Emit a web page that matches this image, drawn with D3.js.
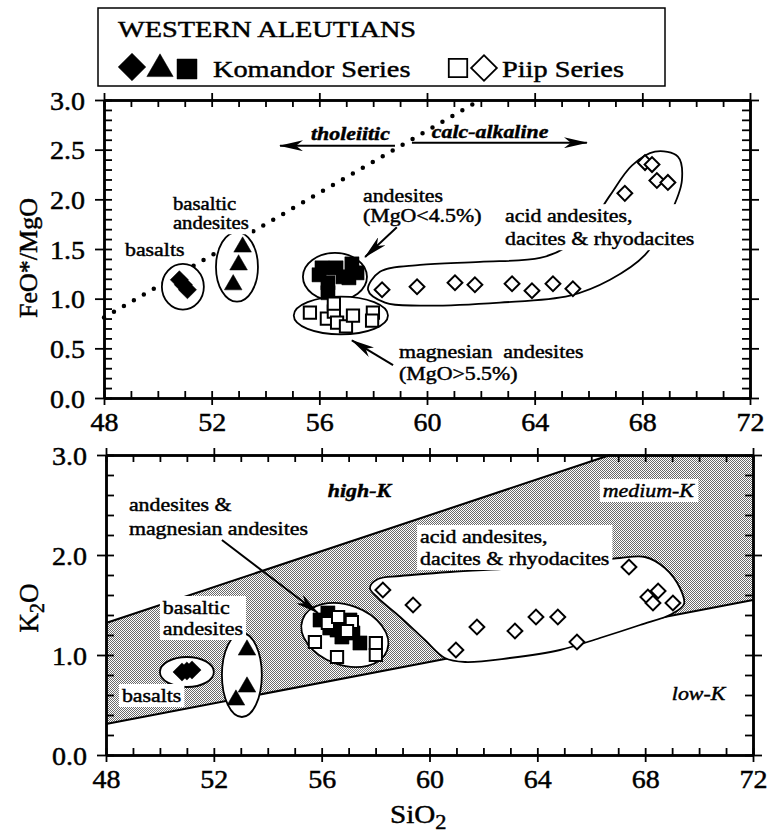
<!DOCTYPE html>
<html>
<head>
<meta charset="utf-8">
<script src="https://cdn.jsdelivr.net/npm/d3@7"></script>
<style>
  body { margin: 0; background: #fff; }
  svg text { font-family: "Liberation Serif", "Times New Roman", Times, serif; fill: #000; stroke: #000; stroke-width: 0.45px; }
</style>
</head>
<body>
<svg id="chart" width="770" height="835"></svg>
<script>
// ticks
const xTicks = [48, 52, 56, 60, 64, 68, 72];
const feTicks = [0, 0.5, 1, 1.5, 2, 2.5, 3];
const kTicks = [0, 1, 2, 3];
const xMinor = d3.range(48, 73, 1);
const feMinor = d3.range(0, 3.001, 0.1);
const kMinor = d3.range(0, 3.001, 0.2);

// FeO*/MgO vs SiO2 (top)
const feKomBasalts = [[50.8, 1.19], [50.95, 1.14], [51.1, 1.09]];
const feKomBasAnd = [[53.15, 1.52], [53.0, 1.34], [52.8, 1.14]];
const feKomAndesites = [[55.99, 1.24], [56.1, 1.31], [56.62, 1.31], [57.21, 1.35], [57.4, 1.26],
  [56.32, 1.16], [56.32, 1.06], [56.88, 1.22], [57.1, 1.21]];
const fePiipMgAnd = [[55.65, 0.86], [56.28, 0.80], [56.54, 0.87], [56.66, 0.76], [56.99, 0.72],
  [57.25, 0.83], [57.99, 0.86], [57.96, 0.78], [56.54, 0.95]];
const fePiipAcid = [[58.33, 1.09], [59.63, 1.12], [61.04, 1.16], [61.78, 1.14], [63.16, 1.15],
  [63.9, 1.08], [64.68, 1.15], [65.42, 1.10], [67.35, 2.06], [68.1, 2.37], [68.36, 2.35],
  [68.54, 2.19], [68.95, 2.17]];
const feDivide = [[48, 0.81], [61.97, 3.0]];

// K2O vs SiO2 (bottom)
const kKomBasalts = [[50.82, 0.83], [51.0, 0.84], [51.19, 0.85]];
const kKomBasAnd = [[53.23, 1.05], [53.23, 0.68], [52.82, 0.55]];
const kKomAndesites = [[55.94, 1.35], [56.23, 1.42], [56.57, 1.25], [56.75, 1.18], [57.16, 1.22],
  [57.42, 1.12], [57.05, 1.35], [56.3, 1.27]];
const kPiipMgAnd = [[55.75, 1.13], [56.23, 1.32], [56.61, 1.38], [57.12, 1.33], [56.94, 1.24],
  [56.57, 0.98], [58.01, 1.12], [58.01, 1.00]];
const kPiipAcid = [[58.27, 1.65], [59.39, 1.50], [60.98, 1.05], [61.76, 1.28], [63.17, 1.24],
  [63.95, 1.38], [64.76, 1.38], [65.47, 1.13], [67.4, 1.88], [68.48, 1.64], [68.1, 1.58],
  [68.29, 1.52], [69.03, 1.52]];
const kMediumLow = [[48, 0.31], [72, 1.55]];
const kMediumHigh = [[48, 1.32], [66.7, 3.0]];

// field outlines: [cx, cy, rx, ry, rotate]
const feFields = [[50.93, 1.12, 0.78, 0.23, 0], [52.94, 1.32, 0.78, 0.35, 0],
  [56.58, 1.22, 1.19, 0.24, 0], [56.8, 0.83, 1.75, 0.19, 0]];
const kFields = [[51.0, 0.83, 1.0, 0.15, 0], [53.04, 0.80, 0.74, 0.42, 0], [56.86, 1.20, 1.67, 0.30, 20]];
const feAcidField = [[57.81, 1.09], [58.25, 1.27], [59.74, 1.34], [61.97, 1.37], [64.2, 1.41],
  [65.12, 1.51], [66.05, 1.74], [66.8, 2.04], [67.61, 2.34], [68.47, 2.48], [69.32, 2.43],
  [69.47, 2.19], [69.03, 1.85], [68.1, 1.44], [66.8, 1.19], [65.31, 1.03], [62.71, 0.96],
  [59.74, 0.93], [58.44, 0.96]];
const kAcidField = [[57.79, 1.67], [58.09, 1.76], [58.91, 1.79], [60.76, 1.83], [63.36, 1.87],
  [65.58, 1.92], [67.07, 1.97], [67.99, 1.98], [68.73, 1.87], [69.29, 1.67], [69.44, 1.51],
  [68.99, 1.41], [67.81, 1.30], [66.32, 1.17], [64.84, 1.05], [62.98, 0.97], [61.32, 0.93],
  [60.57, 0.97], [59.83, 1.15], [58.91, 1.38], [58.09, 1.57]];

const feNotes = [
  { lines: ["basalts"], at: [48.78, 1.43], bg: true },
  { lines: ["basaltic", "andesites"], at: [50.56, 1.89], lh: 19, size: 18, bg: true },
  { lines: ["andesites", "(MgO<4.5%)"], at: [57.62, 1.97], lh: 20, bg: true },
  { lines: ["acid andesites,", "dacites & rhyodacites"], at: [62.9, 1.77], lh: 23, bg: true },
  { lines: ["magnesian  andesites", "(MgO>5.5%)"], at: [58.96, 0.40], lh: 22, bg: true },
  { lines: ["tholeiitic"], at: [55.69, 2.60], italic: true, bold: true },
  { lines: ["calc-alkaline"], at: [60.18, 2.62], italic: true, bold: true }
];
const feArrows = [[[58.81, 2.54], [54.54, 2.54]], [[59.44, 2.57], [65.94, 2.57]],
  [[58.88, 1.72], [57.7, 1.42]], [[58.74, 0.33], [57.21, 0.58]]];

const kNotes = [
  { lines: ["high-K"], at: [56.23, 2.58], italic: true, bold: true },
  { lines: ["medium-K"], at: [66.43, 2.58], italic: true, bg: true },
  { lines: ["low-K"], at: [68.99, 0.55], italic: true },
  { lines: ["andesites &", "magnesian andesites"], at: [48.85, 2.44], lh: 24 },
  { lines: ["basaltic", "andesites"], at: [50.11, 1.41], lh: 21, bg: true },
  { lines: ["basalts"], at: [48.59, 0.53], bg: true },
  { lines: ["acid andesites,", "dacites & rhyodacites"], at: [59.65, 2.12], lh: 22, bg: true }
];
const kArrows = [[[52.3, 2.15], [55.86, 1.42]]];

// ---------------------------------------------------------------
const svg = d3.select("#chart");
const defs = svg.append("defs");

defs.append("marker").attr("id", "arr")
  .attr("viewBox", "0 0 24 11").attr("refX", 23).attr("refY", 5.5)
  .attr("markerWidth", 24).attr("markerHeight", 11)
  .attr("markerUnits", "userSpaceOnUse").attr("orient", "auto")
  .append("path").attr("d", "M0,0L24,5.5L0,11L7,5.5Z");

const pat = defs.append("pattern").attr("id", "stip")
  .attr("width", 2).attr("height", 2).attr("patternUnits", "userSpaceOnUse");
pat.append("rect").attr("width", 2).attr("height", 2).attr("fill", "#fff");
pat.append("rect").attr("width", 1).attr("height", 1).attr("fill", "#6a6a6a");
pat.append("rect").attr("x", 1).attr("y", 1).attr("width", 1).attr("height", 1).attr("fill", "#6a6a6a");

// stretch text horizontally like the scan
function stretch(sel, k) {
  sel.each(function () {
    const L = this.getComputedTextLength();
    this.setAttribute("textLength", L * k);
    this.setAttribute("lengthAdjust", "spacingAndGlyphs");
  });
}

function frame(g, x, y, xMin, yMaj, yMin) {
  const [xl, xr] = x.range(), [yb, yt] = y.range();
  const ax = (axis, tx, ty) => g.append("g").attr("transform", `translate(${tx},${ty})`).call(axis);
  ax(d3.axisBottom(x).tickValues(xMin).tickSize(-7).tickSizeOuter(0).tickFormat(""), 0, yb);
  const bx = ax(d3.axisBottom(x).tickValues(xTicks).tickSize(7).tickSizeOuter(0).tickPadding(8).tickFormat(d3.format("d")), 0, yb);
  ax(d3.axisTop(x).tickValues(xMin).tickSize(-7).tickSizeOuter(0).tickFormat(""), 0, yt);
  ax(d3.axisTop(x).tickValues(xTicks).tickSize(7).tickSizeOuter(0).tickFormat(""), 0, yt);
  ax(d3.axisLeft(y).tickValues(yMin).tickSize(-8).tickSizeOuter(0).tickFormat(""), xl, 0);
  const ly = ax(d3.axisLeft(y).tickValues(yMaj).tickSize(9).tickSizeOuter(0).tickPadding(10).tickFormat(d3.format(".1f")), xl, 0);
  ax(d3.axisRight(y).tickValues(yMin).tickSize(-8).tickSizeOuter(0).tickFormat(""), xr, 0);
  ax(d3.axisRight(y).tickValues(yMaj).tickSize(9).tickSizeOuter(0).tickFormat(""), xr, 0);
  g.selectAll(".domain").attr("stroke-width", 2.5);
  g.selectAll(".tick line").attr("stroke-width", 1.8);
  [bx, ly].forEach(a => {
    const t = a.selectAll("text").style("font-size", "25px");
    stretch(t, 1.12);
  });
  ly.selectAll("text").attr("dy", "0.36em");
}

function marks(g, data, x, y, type, area, filled, rot) {
  g.append("g").selectAll("path").data(data).enter().append("path")
    .attr("d", d3.symbol(type, area))
    .attr("transform", d => `translate(${x(d[0])},${y(d[1])}) rotate(${rot || 0})`)
    .attr("fill", filled ? "#000" : "#fff")
    .attr("stroke", "#000").attr("stroke-width", filled ? 0.5 : 2);
}

function fields(g, data, x, y) {
  g.append("g").selectAll("ellipse").data(data).enter().append("ellipse")
    .attr("rx", d => x(d[0] + d[2]) - x(d[0]))
    .attr("ry", d => y(d[1] - d[3]) - y(d[1]))
    .attr("transform", d => `translate(${x(d[0])},${y(d[1])}) rotate(${d[4]})`)
    .attr("fill", "#fff").attr("stroke", "#000").attr("stroke-width", 1.8);
}

function outline(g, pts, x, y) {
  g.append("path")
    .attr("d", d3.line().x(d => x(d[0])).y(d => y(d[1])).curve(d3.curveCatmullRomClosed.alpha(0.5))(pts))
    .attr("fill", "#fff").attr("stroke", "#000").attr("stroke-width", 1.8);
}

function notes(g, data, x, y) {
  data.forEach(n => {
    const ng = g.append("g");
    const texts = n.lines.map((s, i) => ng.append("text")
      .attr("x", x(n.at[0])).attr("y", y(n.at[1]) + i * (n.lh || 21))
      .style("font-size", (n.size || 19) + "px")
      .style("font-style", n.italic ? "italic" : "normal")
      .style("font-weight", n.bold ? "bold" : "normal")
      .style("white-space", "pre")
      .text(s));
    texts.forEach(t => stretch(t, 1.15));
    if (n.bg) {
      const b = ng.node().getBBox();
      ng.insert("rect", "text").attr("x", b.x - 3).attr("y", b.y - 1)
        .attr("width", b.width + 6).attr("height", b.height + 2).attr("fill", "#fff");
    }
  });
}

function arrows(g, data, x, y) {
  g.append("g").selectAll("line").data(data).enter().append("line")
    .attr("x1", d => x(d[0][0])).attr("y1", d => y(d[0][1]))
    .attr("x2", d => x(d[1][0])).attr("y2", d => y(d[1][1]))
    .attr("stroke", "#000").attr("stroke-width", 2).attr("marker-end", "url(#arr)");
}

// ---- top panel ----
const xTop = d3.scaleLinear().domain([48, 72]).range([104, 750]);
const yFe = d3.scaleLinear().domain([0, 3]).range([398, 100]);
const gTop = svg.append("g");

gTop.append("line")
  .attr("x1", xTop(feDivide[0][0])).attr("y1", yFe(feDivide[0][1]))
  .attr("x2", xTop(feDivide[1][0])).attr("y2", yFe(feDivide[1][1]))
  .attr("stroke", "#000").attr("stroke-width", 4.5)
  .attr("stroke-linecap", "round").attr("stroke-dasharray", "0 11.5");

outline(gTop, feAcidField, xTop, yFe);
fields(gTop, feFields, xTop, yFe);
marks(gTop, feKomBasalts, xTop, yFe, d3.symbolSquare, 165, true, 45);
marks(gTop, feKomBasAnd, xTop, yFe, d3.symbolTriangle, 135, true);
marks(gTop, feKomAndesites, xTop, yFe, d3.symbolSquare, 200, true);
marks(gTop, fePiipMgAnd, xTop, yFe, d3.symbolSquare, 150, false);
marks(gTop, fePiipAcid, xTop, yFe, d3.symbolSquare, 110, false, 45);
notes(gTop, feNotes, xTop, yFe);
arrows(gTop, feArrows, xTop, yFe);
frame(gTop, xTop, yFe, xMinor, feTicks, feMinor);

gTop.append("text")
  .attr("transform", "translate(37,258) rotate(-90)")
  .attr("text-anchor", "middle").style("font-size", "26px")
  .text("FeO*/MgO");

// ---- bottom panel ----
const xBot = d3.scaleLinear().domain([48, 72]).range([106, 753]);
const yK = d3.scaleLinear().domain([0, 3]).range([755, 455]);
const gBot = svg.append("g");

const band = [kMediumLow[0], kMediumHigh[0], kMediumHigh[1], [72, 3.0], kMediumLow[1]];
gBot.append("path")
  .attr("d", d3.line().x(d => xBot(d[0])).y(d => yK(d[1]))(band) + "Z")
  .attr("fill", "url(#stip)").attr("shape-rendering", "crispEdges");
gBot.append("g").selectAll("line").data([kMediumLow, kMediumHigh]).enter().append("line")
  .attr("x1", d => xBot(d[0][0])).attr("y1", d => yK(d[0][1]))
  .attr("x2", d => xBot(d[1][0])).attr("y2", d => yK(d[1][1]))
  .attr("stroke", "#000").attr("stroke-width", 2);

outline(gBot, kAcidField, xBot, yK);
fields(gBot, kFields, xBot, yK);
marks(gBot, kKomBasalts, xBot, yK, d3.symbolSquare, 165, true, 45);
marks(gBot, kKomBasAnd, xBot, yK, d3.symbolTriangle, 135, true);
marks(gBot, kKomAndesites, xBot, yK, d3.symbolSquare, 200, true);
marks(gBot, kPiipMgAnd, xBot, yK, d3.symbolSquare, 150, false);
marks(gBot, kPiipAcid, xBot, yK, d3.symbolSquare, 110, false, 45);
notes(gBot, kNotes, xBot, yK);
arrows(gBot, kArrows, xBot, yK);
frame(gBot, xBot, yK, xMinor, kTicks, kMinor);

const kLab = gBot.append("text")
  .attr("transform", "translate(38,608) rotate(-90)")
  .attr("text-anchor", "middle").style("font-size", "27px");
kLab.append("tspan").text("K");
kLab.append("tspan").attr("dy", 6).style("font-size", "20px").text("2");
kLab.append("tspan").attr("dy", -6).text("O");

const siLab = svg.append("text").attr("x", 390).attr("y", 823).style("font-size", "26px");
siLab.append("tspan").text("SiO");
siLab.append("tspan").attr("dy", 6).style("font-size", "20px").text("2");
stretch(siLab, 1.12);

// ---- legend ----
const lg = svg.append("g");
lg.append("rect").attr("x", 98).attr("y", 8).attr("width", 567).attr("height", 78)
  .attr("fill", "#fff").attr("stroke", "#000").attr("stroke-width", 1.5);
stretch(lg.append("text").attr("x", 118).attr("y", 37).style("font-size", "24px").text("WESTERN ALEUTIANS"), 1.18);
const sym = (type, area, cx, cy, filled, rot) => lg.append("path")
  .attr("d", d3.symbol(type, area)())
  .attr("transform", `translate(${cx},${cy}) rotate(${rot || 0})`)
  .attr("fill", filled ? "#000" : "#fff").attr("stroke", "#000").attr("stroke-width", filled ? 0.5 : 1.8);
sym(d3.symbolSquare, 380, 132, 67, true, 45);
sym(d3.symbolTriangle, 300, 160, 69, true);
sym(d3.symbolSquare, 400, 187, 69, true);
stretch(lg.append("text").attr("x", 213).attr("y", 77).style("font-size", "24px").text("Komandor Series"), 1.18);
sym(d3.symbolSquare, 340, 458, 68, false);
sym(d3.symbolSquare, 330, 484, 68, false, 45);
stretch(lg.append("text").attr("x", 502).attr("y", 77).style("font-size", "24px").text("Piip Series"), 1.18);
</script>
</body>
</html>
